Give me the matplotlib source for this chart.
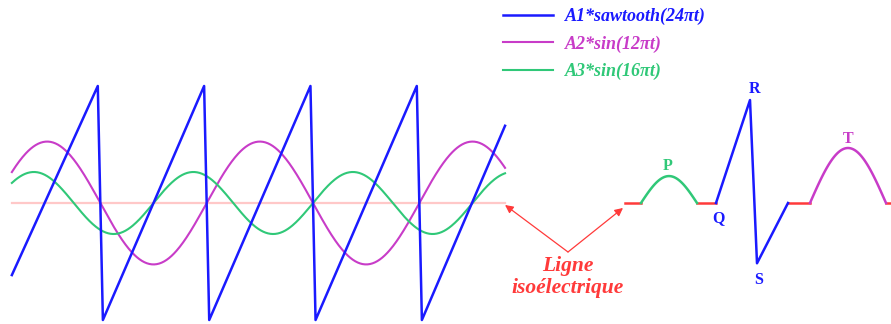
import matplotlib.pyplot as plt
import numpy as np

# Paramètres des signaux
A1, A2, A3 = 2.0, 1.05, 0.53        # amplitudes
f_saw, f_sin2, f_sin3 = 12, 6, 8    # fréquences : 24πt, 12πt, 16πt
phase2 = np.pi                      # la sinusoïde magenta démarre vers le bas en t=0
t_start, t_end = -0.236, 0.1505
jump_width = 0.004                  # la chute de la dent de scie n'est pas verticale

labels = ['A1*sawtooth(24πt)', 'A2*sin(12πt)', 'A3*sin(16πt)']
colors = ['#1a1aff', '#c83cc8', '#30c878']
red = '#ff3a3a'

# ECG (temps en ms, amplitude en unités du graphe)
iso_segments = [(50, 82), (194, 232), (376, 420), (572, 582)]
p_start, p_end, p_amp = 82, 194, 0.46
qrs_t = [232, 300, 314, 376]
qrs_v = [0, 1.76, -1.03, 0]
t_start_T, t_end_T, t_amp = 420, 572, 0.94
wave_names = ['P', 'Q', 'R', 'S', 'T']
wave_pos = [(136, 0.63), (236, -0.26), (308, 1.95), (318, -1.32), (496, 1.09)]
wave_colors = [colors[2], colors[0], colors[0], colors[0], colors[1]]

fig = plt.figure(figsize=(8.91, 3.24), dpi=100)
ax = fig.add_axes([0, 0, 1, 1])
ax.set_xlim(-313 / 1276, 578 / 1276)
ax.set_ylim(-121 / 58.5, 203 / 58.5)
ax.axis('off')

# signaux de gauche
period = 1 / f_saw
jumps = np.arange(np.ceil(t_start / period), np.floor(t_end / period) + 1) * period
saw_t = [t_start]
for j in jumps:
    saw_t += [j - jump_width / 2, j + jump_width / 2]
saw_t.append(t_end)
saw_t = np.array(saw_t)
saw = A1 * (2 * np.mod(f_saw * (saw_t + jump_width / 2), 1) - 1)
saw[1:-1:2] = A1
saw[2:-1:2] = -A1

t = np.linspace(t_start, t_end, 600)
s2 = A2 * np.sin(2 * np.pi * f_sin2 * t + phase2)
s3 = A3 * np.sin(2 * np.pi * f_sin3 * t)

ax.plot([t_start, t_end], [0, 0], color='#ffc8c8', lw=1.6, zorder=1)
l1, = ax.plot(saw_t, saw, color=colors[0], lw=1.8, label=labels[0], zorder=3)
l2, = ax.plot(t, s2, color=colors[1], lw=1.5, label=labels[1], zorder=2)
l3, = ax.plot(t, s3, color=colors[2], lw=1.5, label=labels[2], zorder=2)

fig.legend(handles=[l1, l2, l3], loc='upper left', bbox_to_anchor=(0.5645, 0.976),
           frameon=False, labelcolor='linecolor', handlelength=2.76, handletextpad=0.66,
           labelspacing=0.56, borderpad=0, borderaxespad=0,
           prop={'family': 'Liberation Serif', 'style': 'italic', 'weight': 'bold', 'size': 13})

# ECG
ax2 = fig.add_axes([600 / 891, 0, 291 / 891, 1])
ax2.set_xlim(0, 582)
ax2.set_ylim(ax.get_ylim())
ax2.axis('off')
for a, b in iso_segments:
    ax2.plot([a, b], [0, 0], color=red, lw=1.8)
tp = np.linspace(p_start, p_end, 100)
ax2.plot(tp, p_amp * np.sin(np.pi * (tp - p_start) / (p_end - p_start)), color=colors[2], lw=1.8)
ax2.plot(qrs_t, qrs_v, color=colors[0], lw=1.8)
tt = np.linspace(t_start_T, t_end_T, 100)
ax2.plot(tt, t_amp * np.sin(np.pi * (tt - t_start_T) / (t_end_T - t_start_T)), color=colors[1], lw=1.8)
for name, (x, y), c in zip(wave_names, wave_pos, wave_colors):
    ax2.text(x, y, name, color=c, ha='center', va='center', fontsize=11.5,
             family='Liberation Serif', weight='bold')

# Ligne isoélectrique
tail = (568 / 891, 1 - 252 / 324)
arrow = dict(arrowstyle='-|>', color=red, lw=0.9, mutation_scale=12, shrinkA=0, shrinkB=0)
ax.annotate('', xy=(t_end, -0.034), xytext=tail, textcoords='figure fraction', arrowprops=arrow)
ax2.annotate('', xy=(46, -0.085), xytext=tail, textcoords='figure fraction', arrowprops=arrow)
fig.text(568 / 891, 1 - 277 / 324, 'Ligne\nisoélectrique', color=red, ha='center', va='center',
         fontsize=15.5, family='Liberation Serif', style='italic', weight='bold', linespacing=1.08)

fig.savefig('out.png', dpi=100)
